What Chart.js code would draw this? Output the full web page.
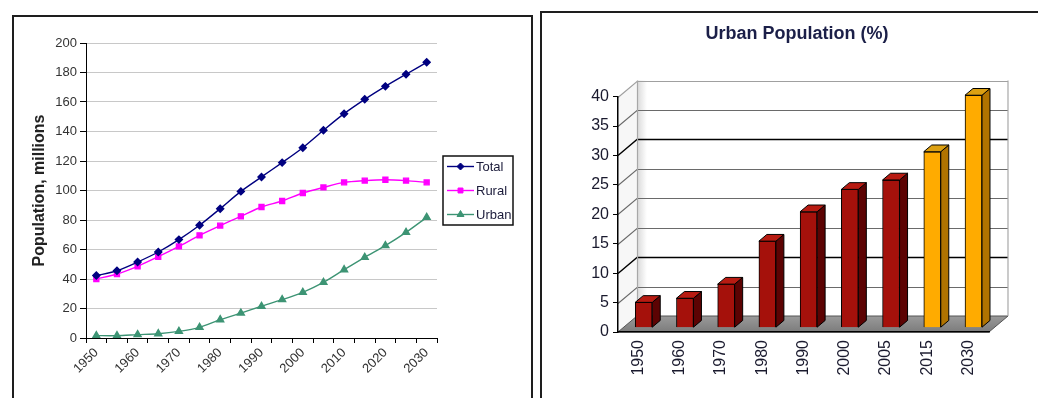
<!DOCTYPE html>
<html>
<head>
<meta charset="utf-8">
<title>Population and urbanisation</title>
<script src="https://cdn.jsdelivr.net/npm/chart.js@4.4.1/dist/chart.umd.min.js"></script>
<style>
  html, body { margin: 0; padding: 0; background: #fff; width: 1038px; height: 398px; overflow: hidden; }
  .panel { position: absolute; border: 2px solid #1e1e1e; box-sizing: border-box; background: #fff; }
  #leftPanel { left: 12px; top: 15px; width: 521px; height: 400px; }
  #rightPanel { left: 540px; top: 11px; width: 510px; height: 400px; }
  .panel canvas { position: absolute; left: 0; top: 0; }
</style>
</head>
<body>
<div class="panel" id="leftPanel"><canvas id="popChart" width="516" height="381" style="width:516px;height:381px"></canvas></div>
<div class="panel" id="rightPanel"><canvas id="urbanChart" width="496" height="385" style="width:496px;height:385px"></canvas></div>
<script>
// ---- Population, millions (five-year steps) ----
const years = [1950, 1955, 1960, 1965, 1970, 1975, 1980, 1985, 1990, 1995, 2000, 2005, 2010, 2015, 2020, 2025, 2030];
const totalPop = [42.3, 45.6, 51.5, 58.3, 66.7, 76.4, 87.7, 99.4, 109.2, 118.9, 129.0, 140.8, 152.1, 161.8, 170.6, 178.8, 186.9];
const ruralPop = [40.0, 43.4, 48.6, 55.1, 62.1, 69.6, 76.2, 82.5, 88.8, 92.9, 98.3, 102.1, 105.5, 106.7, 107.3, 106.7, 105.5];
const urbanPop = [1.6, 1.6, 2.3, 2.9, 4.5, 7.2, 12.4, 16.9, 21.5, 26.0, 31.0, 37.7, 46.3, 54.7, 62.6, 71.6, 81.8];
const popAxisMax = 200;
const popAxisStep = 20;

// ---- Urban population, share of total (%) ----
const shareYears = ['1950', '1960', '1970', '1980', '1990', '2000', '2005', '2015', '2030'];
const urbanShare = [4.3, 5.0, 7.4, 14.7, 19.7, 23.5, 25.1, 29.9, 39.5];
const firstProjectionYear = 2015;
const shareAxisMax = 40;
const shareAxisStep = 5;

Chart.defaults.font.family = "'Liberation Sans', Arial, sans-serif";
Chart.defaults.color = '#222';
Chart.defaults.animation = false;

// Boxed legend with line + marker samples, to the right of the plot
const boxedLegend = {
  id: 'boxedLegend',
  afterDraw(chart) {
    const { ctx, chartArea } = chart;
    const w = 70, h = 69;
    const x0 = chartArea.right + 6;
    const y0 = Math.round((chartArea.top + chartArea.bottom) / 2 - h / 2);
    ctx.save();
    ctx.fillStyle = '#fff';
    ctx.fillRect(x0, y0, w, h);
    ctx.strokeStyle = '#111';
    ctx.lineWidth = 1.5;
    ctx.strokeRect(x0, y0, w, h);
    chart.data.datasets.forEach((ds, i) => {
      const y = y0 + 10.5 + i * 24;
      ctx.strokeStyle = ds.borderColor;
      ctx.lineWidth = ds.borderWidth;
      ctx.beginPath();
      ctx.moveTo(x0 + 4, y);
      ctx.lineTo(x0 + 31, y);
      ctx.stroke();
      ctx.fillStyle = ds.pointBackgroundColor;
      ctx.strokeStyle = ds.pointBorderColor;
      ctx.lineWidth = 1;
      Chart.helpers.drawPoint(ctx, { pointStyle: ds.pointStyle, radius: ds.pointRadius, borderWidth: 1, rotation: 0 }, x0 + 17.5, y);
      ctx.fillStyle = '#1b1b3a';
      ctx.font = "13px 'Liberation Sans', Arial, sans-serif";
      ctx.textBaseline = 'middle';
      ctx.textAlign = 'left';
      ctx.fillText(ds.label, x0 + 33, y + 1);
    });
    ctx.restore();
  }
};

new Chart(document.getElementById('popChart'), {
  type: 'line',
  data: {
    labels: years,
    datasets: [
      { label: 'Total', data: totalPop, borderColor: '#000080', backgroundColor: '#000080',
        pointBackgroundColor: '#000080', pointBorderColor: '#000080', pointStyle: 'rectRot',
        pointRadius: 3.5, borderWidth: 1.4, tension: 0.25 },
      { label: 'Rural', data: ruralPop, borderColor: '#ff00ff', backgroundColor: '#ff00ff',
        pointBackgroundColor: '#ff00ff', pointBorderColor: '#ff00ff', pointStyle: 'rect',
        pointRadius: 3.5, borderWidth: 1.4, tension: 0.25 },
      { label: 'Urban', data: urbanPop, borderColor: '#3d9474', backgroundColor: '#3d9474',
        pointBackgroundColor: '#3d9474', pointBorderColor: '#3d9474', pointStyle: 'triangle',
        pointRadius: 4, borderWidth: 1.4, tension: 0.25 }
    ]
  },
  options: {
    responsive: false,
    layout: { padding: { left: 0, top: 26, right: 93, bottom: 0 } },
    plugins: { legend: { display: false }, tooltip: { enabled: false } },
    scales: {
      x: {
        type: 'category',
        offset: true,
        grid: { offset: true, drawOnChartArea: false, drawTicks: true, tickLength: 5, tickColor: '#000' },
        border: { color: '#000', width: 1 },
        ticks: {
          autoSkip: false, minRotation: 45, maxRotation: 45, padding: 2,
          font: { size: 13 }, color: '#333',
          callback: (v, i) => (i % 2 === 0 ? String(years[i]) : '')
        },
        afterFit(scale) { scale.height = 60; }
      },
      y: {
        min: 0, max: popAxisMax,
        ticks: { stepSize: popAxisStep, padding: 3, font: { size: 13 }, color: '#333' },
        grid: { color: '#c8c8c8', lineWidth: 1, tickLength: 6, tickColor: '#000' },
        border: { color: '#000', width: 1 },
        title: { display: true, text: 'Population, millions', color: '#222',
                 font: { size: 16, weight: 'bold' }, padding: { top: 16, bottom: 0 } },
        afterFit(scale) { scale.width = 72; }
      }
    }
  },
  plugins: [boxedLegend]
});

// ---- 3D look for the percentage bar chart ----
const DEPTH = { dx: 19, dy: -16 };   // front plane -> back wall
const BAR_FRONT = 0.27;              // bar front face depth position
const BAR_DEPTH = 0.42;              // bar thickness along depth
const TITLE_SHIFT = 8.5;             // centre the title over the whole framed box
const isProjection = i => Number(shareYears[i]) >= firstProjectionYear;
const barPalette = i => isProjection(i)
  ? { front: '#ffab00', side: '#b07300', top: '#dca012' }
  : { front: '#a5110b', side: '#5c0303', top: '#b81b12' };

const box3d = {
  id: 'box3d',
  afterLayout(chart) {
    const tb = chart.titleBlock;
    if (tb) { tb.left += TITLE_SHIFT; tb.right += TITLE_SHIFT; }
  },
  beforeDraw(chart) {
    const { ctx, chartArea: { left, right, top, bottom }, scales: { y } } = chart;
    const { dx, dy } = DEPTH;
    ctx.save();
    // side wall
    ctx.beginPath();
    ctx.moveTo(left, top); ctx.lineTo(left + dx, top + dy);
    ctx.lineTo(left + dx, bottom + dy); ctx.lineTo(left, bottom); ctx.closePath();
    ctx.fillStyle = '#f7f7f7'; ctx.fill();
    // back wall with a soft shade along its left edge
    const g = ctx.createLinearGradient(left + dx, 0, left + dx + 10, 0);
    g.addColorStop(0, '#d9d9d9'); g.addColorStop(1, '#ffffff');
    ctx.fillStyle = g;
    ctx.fillRect(left + dx, top + dy, right - left, bottom - top);
    // floor
    const fg = ctx.createLinearGradient(0, bottom, 0, bottom + dy);
    fg.addColorStop(0, '#7c7c7c'); fg.addColorStop(1, '#9a9a9a');
    ctx.beginPath();
    ctx.moveTo(left, bottom); ctx.lineTo(right, bottom);
    ctx.lineTo(right + dx, bottom + dy); ctx.lineTo(left + dx, bottom + dy); ctx.closePath();
    ctx.fillStyle = fg; ctx.fill();
    ctx.strokeStyle = '#555'; ctx.lineWidth = 1; ctx.stroke();
    // gridlines: diagonal on the side wall, horizontal on the back wall
    y.ticks.forEach(t => {
      if (t.value === 0) return;
      const py = Math.round(y.getPixelForValue(t.value)) + 0.5;
      const strong = t.value === 10 || t.value === 30;
      ctx.strokeStyle = t.value === shareAxisMax ? '#a0a0a0' : (strong ? '#000' : '#6a6a6a');
      ctx.lineWidth = strong ? 1.4 : 1.1;
      ctx.beginPath();
      ctx.moveTo(left, py); ctx.lineTo(left + dx, py + dy);
      ctx.lineTo(right + dx, py + dy);
      ctx.stroke();
    });
    // back wall outline
    ctx.strokeStyle = '#a8a8a8'; ctx.lineWidth = 1.2;
    ctx.beginPath();
    ctx.moveTo(left + dx + 0.5, bottom + dy); ctx.lineTo(left + dx + 0.5, top + dy);
    ctx.moveTo(right + dx, top + dy); ctx.lineTo(right + dx, bottom + dy);
    ctx.stroke();
    ctx.restore();
  },
  beforeDatasetsDraw(chart) {
    const { ctx } = chart;
    ctx.save();
    ctx.translate(DEPTH.dx * BAR_FRONT, DEPTH.dy * BAR_FRONT);
  },
  afterDatasetsDraw(chart) {
    const { ctx } = chart;
    const bdx = DEPTH.dx * BAR_DEPTH, bdy = DEPTH.dy * BAR_DEPTH;
    chart.getDatasetMeta(0).data.forEach((bar, i) => {
      const { x, y, base, width } = bar.getProps(['x', 'y', 'base', 'width'], true);
      const l = x - width / 2, r = x + width / 2;
      const pal = barPalette(i);
      ctx.lineWidth = 1; ctx.strokeStyle = '#000'; ctx.lineJoin = 'round';
      ctx.beginPath();
      ctx.moveTo(r, y); ctx.lineTo(r + bdx, y + bdy);
      ctx.lineTo(r + bdx, base + bdy); ctx.lineTo(r, base); ctx.closePath();
      ctx.fillStyle = pal.side; ctx.fill(); ctx.stroke();
      ctx.beginPath();
      ctx.moveTo(l, y); ctx.lineTo(r, y);
      ctx.lineTo(r + bdx, y + bdy); ctx.lineTo(l + bdx, y + bdy); ctx.closePath();
      ctx.fillStyle = pal.top; ctx.fill(); ctx.stroke();
    });
    ctx.restore();
  }
};

new Chart(document.getElementById('urbanChart'), {
  type: 'bar',
  data: {
    labels: shareYears,
    datasets: [{
      label: 'Urban Population (%)',
      data: urbanShare,
      backgroundColor: c => barPalette(c.dataIndex).front,
      borderColor: '#000',
      borderWidth: 1,
      barThickness: 17
    }]
  },
  options: {
    responsive: false,
    layout: { padding: { left: 46, top: 0, right: 49, bottom: 0 } },
    plugins: {
      legend: { display: false },
      tooltip: { enabled: false },
      title: {
        display: true, text: 'Urban Population (%)', color: '#1b1f48',
        font: { size: 18, weight: 'bold' }, padding: { top: 10, bottom: 52 }
      }
    },
    scales: {
      x: {
        offset: true,
        grid: { drawOnChartArea: false, drawTicks: false },
        border: { color: '#000', width: 1.5 },
        ticks: { autoSkip: false, minRotation: 90, maxRotation: 90, padding: 8,
                 font: { size: 16 }, color: '#1a1a2e' },
        afterFit(scale) { scale.height = 66; }
      },
      y: {
        min: 0, max: shareAxisMax,
        ticks: { stepSize: shareAxisStep, padding: 4, font: { size: 16 }, color: '#1a1a2e' },
        grid: { drawOnChartArea: false, drawTicks: true, tickLength: 5, tickColor: '#000' },
        border: { color: '#000', width: 1.5 },
        afterFit(scale) { scale.width = 30; }
      }
    }
  },
  plugins: [box3d]
});
</script>
</body>
</html>
